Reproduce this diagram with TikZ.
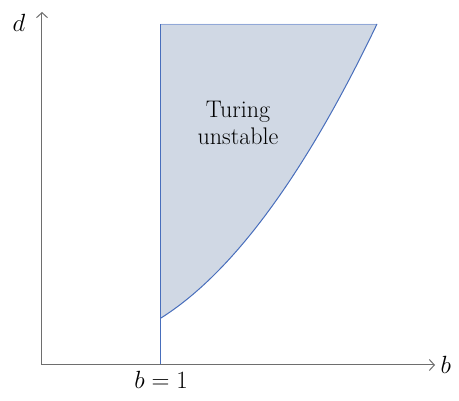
\documentclass[tikz,border=0pt]{standalone}
\usetikzlibrary{positioning,arrows.meta}
\definecolor{regfill}{RGB}{208,216,228}
\definecolor{regline}{RGB}{72,110,188}
\definecolor{axisgray}{RGB}{110,110,110}
\tikzset{axis/.style={-{Straight Barb[length=5pt,width=11pt]},axisgray,line width=1pt},
  bound/.style={regline,line width=1pt},
  biglab/.style={font=\fontsize{35}{38}\selectfont}}
\begin{document}
\begin{tikzpicture}[x=1pt,y=1pt]
  \useasboundingbox (-42,-35) rectangle (417,365);
  \coordinate (O) at (0,0);
  \coordinate (xend) at (393,0);
  \coordinate (yend) at (0,353);
  \coordinate (foot) at (119,0);
  \coordinate (low) at (119,47);
  \coordinate (topl) at (119,341);
  \coordinate (topr) at (335,341);
  % unstable region
  \fill [regfill] (low) .. controls (191,92.5) and (263,190.5) .. (topr) -- (topl) -- cycle;
  \draw [regline!60,line width=0.6pt] (topl) -- (topr);
  \draw [bound] (low) .. controls (191,92.5) and (263,190.5) .. (topr);
  \draw [bound] (foot) -- (topl);
  % axes
  \draw [axis] (O) -- (xend);
  \draw [axis] (O) -- (yend);
  \node [biglab,right=2pt of xend] (blab) {$b$};
  \node [biglab] (dlab) at (-23,342) {$d$};
  \node [font=\fontsize{27}{30}\selectfont,below=3pt of foot] (b1) {$b=1$};
  \node [font=\fontsize{24}{27}\selectfont,align=center] (turing) at (196,242) {Turing\\unstable};
\end{tikzpicture}
\end{document}
